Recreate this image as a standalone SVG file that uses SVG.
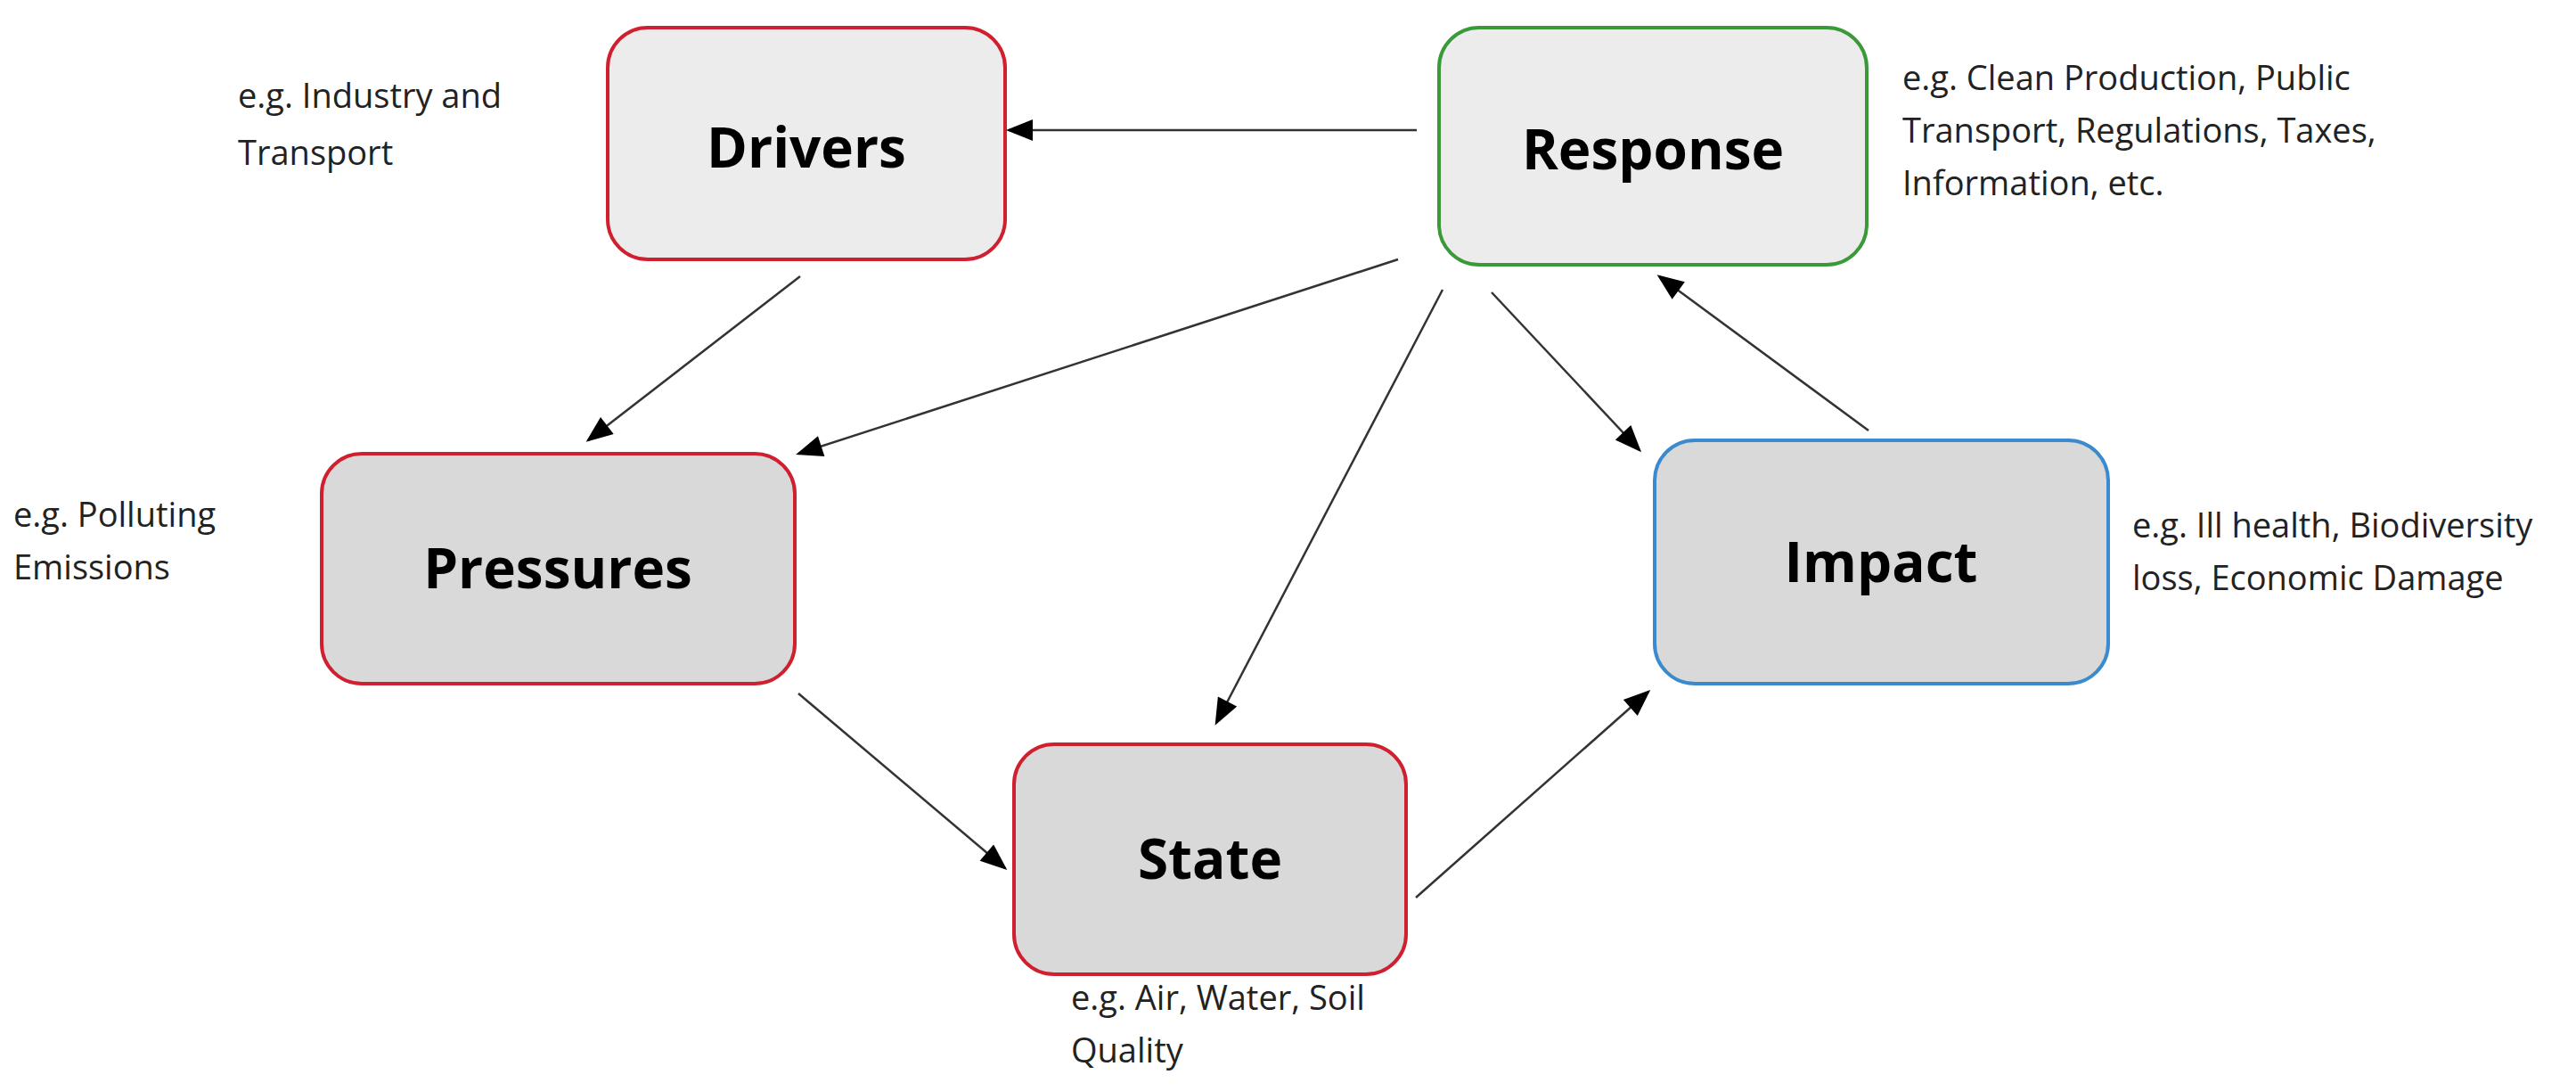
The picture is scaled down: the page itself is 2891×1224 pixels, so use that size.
<svg xmlns="http://www.w3.org/2000/svg" width="2891" height="1224" viewBox="0 0 2891 1224">
<style>
.box{stroke-width:4}
.t{font-family:"Open Sans","Liberation Sans",sans-serif;font-weight:bold;font-size:62px;text-anchor:middle;fill:#000}
.l{font-family:"Open Sans","Liberation Sans",sans-serif;font-size:38px;fill:#222}
.c line{stroke:#333;stroke-width:2.5}
</style>
<defs>
<marker id="a2" viewBox="0 0 10 8" refX="9" refY="4" markerWidth="32" markerHeight="24" orient="auto" markerUnits="userSpaceOnUse"><path d="M0,0L10,4L0,8z" fill="#000"/></marker></defs>
<rect width="2891" height="1224" fill="#fff"/>
<g id="drivers"><rect class="box" x="682" y="31" width="446" height="260" rx="45" fill="#ececec" stroke="#d02030"/><text class="t" x="905" y="188">Drivers</text></g>
<g id="response"><rect class="box" x="1615" y="31" width="480" height="266" rx="45" fill="#ececec" stroke="#3a9a3a"/><text class="t" x="1855" y="190">Response</text></g>
<g id="pressures"><rect class="box" x="361" y="509" width="531" height="258" rx="45" fill="#d9d9d9" stroke="#d02030"/><text class="t" x="626" y="660">Pressures</text></g>
<g id="impact"><rect class="box" x="1857" y="494" width="509" height="273" rx="45" fill="#d9d9d9" stroke="#3a8ad0"/><text class="t" x="2111" y="653">Impact</text></g>
<g id="state"><rect class="box" x="1138" y="835" width="440" height="258" rx="45" fill="#d9d9d9" stroke="#d02030"/><text class="t" x="1358" y="986">State</text></g>
<g id="labels">
<text class="l" x="267" y="121">e.g. Industry and</text><text class="l" x="267" y="185">Transport</text>
<text class="l" x="2135" y="101">e.g. Clean Production, Public</text><text class="l" x="2135" y="160">Transport, Regulations, Taxes,</text><text class="l" x="2135" y="219">Information, etc.</text>
<text class="l" x="15" y="591">e.g. Polluting</text><text class="l" x="15" y="650">Emissions</text>
<text class="l" x="2393" y="603">e.g. Ill health, Biodiversity</text><text class="l" x="2393" y="662">loss, Economic Damage</text>
<text class="l" x="1202" y="1133">e.g. Air, Water, Soil</text><text class="l" x="1202" y="1192">Quality</text>
</g>
<g id="connectors" class="c">
<line x1="1590" y1="146" x2="1132" y2="146" marker-end="url(#a2)"/>
<line x1="898" y1="310" x2="660" y2="494" marker-end="url(#a2)"/>
<line x1="1569" y1="291" x2="896" y2="509" marker-end="url(#a2)"/>
<line x1="1619" y1="325" x2="1365" y2="811" marker-end="url(#a2)"/>
<line x1="1674" y1="328" x2="1840" y2="505" marker-end="url(#a2)"/>
<line x1="2097" y1="483" x2="1862" y2="310" marker-end="url(#a2)"/>
<line x1="896" y1="778" x2="1128" y2="974" marker-end="url(#a2)"/>
<line x1="1589" y1="1007" x2="1850" y2="776" marker-end="url(#a2)"/>
</g>
</svg>
